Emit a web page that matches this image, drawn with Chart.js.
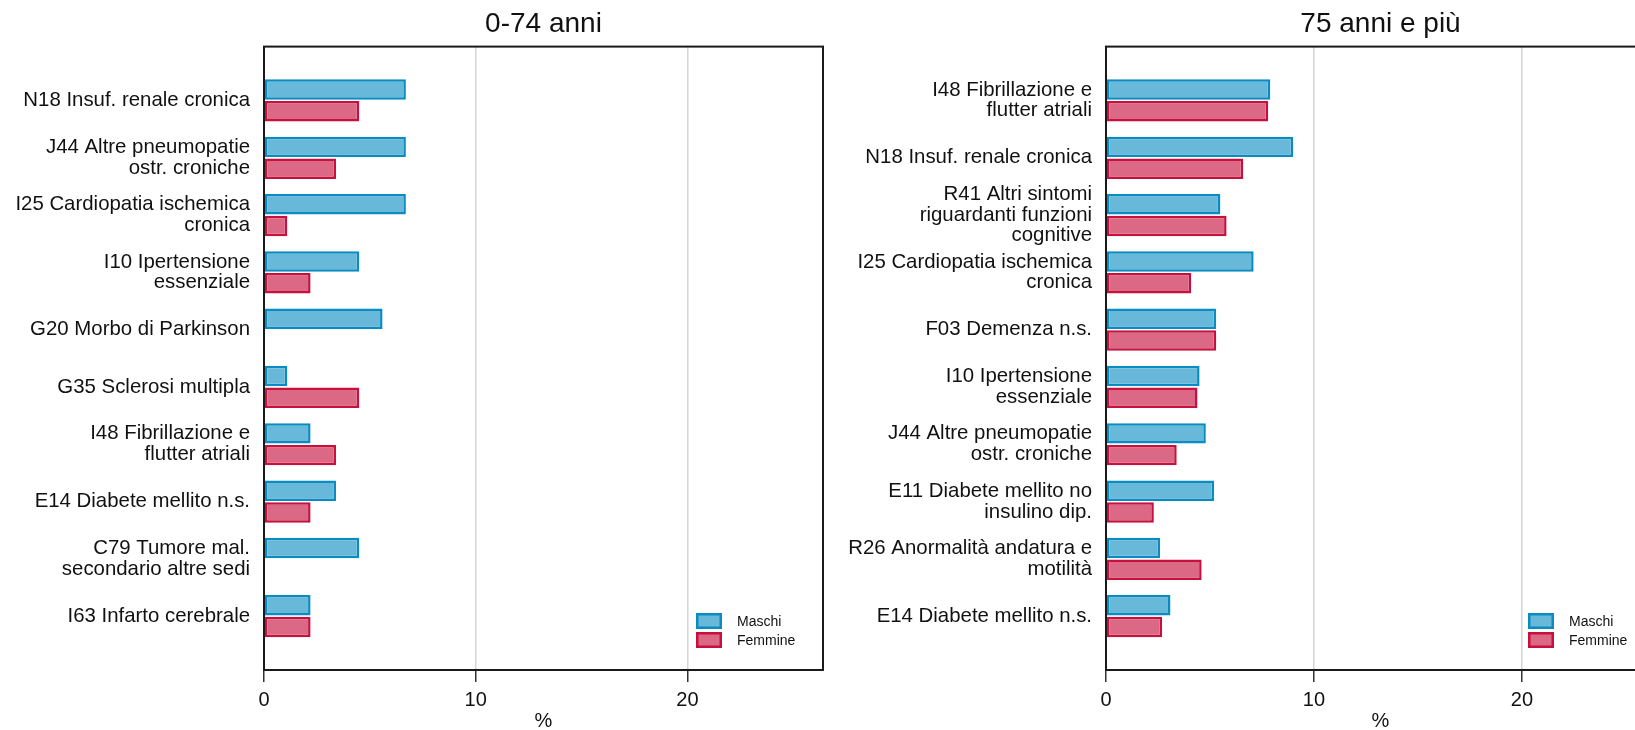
<!DOCTYPE html>
<html>
<head>
<meta charset="utf-8">
<script src="https://cdn.jsdelivr.net/npm/chart.js@4.4.1/dist/chart.umd.min.js"></script>
<style>
    html, body { margin: 0; padding: 0; background: #fff; overflow: hidden; width: 1635px; height: 730px; }
    .panel { position: absolute; top: 0; height: 730px; }
    #left-panel { left: 0; width: 830px; }
    #right-panel { left: 830px; width: 830px; }
</style>
</head>
<body>
<div class="panel" id="left-panel"><canvas id="chartLeft"></canvas></div>
<div class="panel" id="right-panel"><canvas id="chartRight"></canvas></div>
<script>
// 0-74 anni
const leftLabels = [
    'N18 Insuf. renale cronica',
    ['J44 Altre pneumopatie', 'ostr. croniche'],
    ['I25 Cardiopatia ischemica', 'cronica'],
    ['I10 Ipertensione', 'essenziale'],
    'G20 Morbo di Parkinson',
    'G35 Sclerosi multipla',
    ['I48 Fibrillazione e', 'flutter atriali'],
    'E14 Diabete mellito n.s.',
    ['C79 Tumore mal.', 'secondario altre sedi'],
    'I63 Infarto cerebrale'
];
const leftMaschi = [6.7, 6.7, 6.7, 4.5, 5.6, 1.1, 2.2, 3.4, 4.5, 2.2];
const leftFemmine = [4.5, 3.4, 1.1, 2.2, null, 4.5, 3.4, 2.2, null, 2.2];

// 75 anni e più
const rightLabels = [
    ['I48 Fibrillazione e', 'flutter atriali'],
    'N18 Insuf. renale cronica',
    ['R41 Altri sintomi', 'riguardanti funzioni', 'cognitive'],
    ['I25 Cardiopatia ischemica', 'cronica'],
    'F03 Demenza n.s.',
    ['I10 Ipertensione', 'essenziale'],
    ['J44 Altre pneumopatie', 'ostr. croniche'],
    ['E11 Diabete mellito no', 'insulino dip.'],
    ['R26 Anormalità andatura e', 'motilità'],
    'E14 Diabete mellito n.s.'
];
const rightMaschi = [7.9, 9.0, 5.5, 7.1, 5.3, 4.5, 4.8, 5.2, 2.6, 3.1];
const rightFemmine = [7.8, 6.6, 5.8, 4.1, 5.3, 4.4, 3.4, 2.3, 4.6, 2.7];

const xTicks = [0, 10, 20];
const xMax = 26.4;

const FONT = '"Liberation Sans", Arial, sans-serif';
const BLUE = '#68b9d9', BLUE_LINE = '#0a8cc2';
const RED = '#db6985', RED_LINE = '#c8103f';

// plot frame drawn on top of the bars
const framePlugin = {
    id: 'frame',
    afterDatasetsDraw(chart) {
        const { ctx, chartArea: a } = chart;
        ctx.save();
        ctx.strokeStyle = '#1a1a1a';
        ctx.lineWidth = 2;
        ctx.strokeRect(a.left, a.top, a.right - a.left, a.bottom - a.top);
        ctx.restore();
    }
};

// small legend in the bottom right corner of the plot
const legendPlugin = {
    id: 'cornerLegend',
    afterDraw(chart) {
        const { ctx, chartArea: a } = chart;
        ctx.save();
        ctx.font = '14px ' + FONT;
        ctx.textBaseline = 'middle';
        chart.data.datasets.forEach((ds, i) => {
            const x = a.right - 127;
            const y = a.bottom - 57 + i * 19;
            ctx.fillStyle = ds.backgroundColor;
            ctx.fillRect(x, y, 26, 16);
            ctx.strokeStyle = ds.borderColor;
            ctx.lineWidth = 2.5;
            ctx.strokeRect(x + 1.25, y + 1.25, 23.5, 13.5);
            ctx.fillStyle = '#111';
            ctx.fillText(ds.label, a.right - 86, y + 9);
        });
        ctx.restore();
    }
};

function makeChart(canvasId, title, labels, maschi, femmine, yWidth, padRight) {
    const toPoints = arr => arr.map((v, i) => ({ x: v, y: i }));
    return new Chart(document.getElementById(canvasId), {
        type: 'bar',
        data: {
            datasets: [
                { label: 'Maschi', data: toPoints(maschi), backgroundColor: BLUE, borderColor: BLUE_LINE },
                { label: 'Femmine', data: toPoints(femmine), backgroundColor: RED, borderColor: RED_LINE }
            ]
        },
        options: {
            indexAxis: 'y',
            responsive: true,
            maintainAspectRatio: false,
            animation: false,
            layout: { padding: { left: 0, right: padRight, top: 0, bottom: 0 } },
            datasets: {
                bar: { borderWidth: 2.5, borderSkipped: false, categoryPercentage: 0.76, barPercentage: 0.94 }
            },
            scales: {
                y: {
                    type: 'linear',
                    reverse: true,
                    offset: false,
                    min: -0.94,
                    max: labels.length - 1 + 0.94,
                    grid: { display: false },
                    border: { display: false },
                    ticks: {
                        stepSize: 1,
                        autoSkip: false,
                        includeBounds: false,
                        padding: 6,
                        color: '#111',
                        font: { family: FONT, size: 20.4, lineHeight: 1.02 },
                        callback: v => Number.isInteger(v) ? labels[v] : ''
                    },
                    afterFit: s => { s.width = yWidth; }
                },
                x: {
                    min: 0,
                    max: xMax,
                    grid: { color: '#d6d6d6', lineWidth: 1.5, tickLength: 12, tickColor: '#333', tickWidth: 1.5 },
                    border: { display: false },
                    ticks: {
                        stepSize: 10,
                        includeBounds: false,
                        padding: 6,
                        color: '#111',
                        font: { family: FONT, size: 20 },
                        callback: v => xTicks.includes(v) ? String(v) : ''
                    },
                    title: {
                        display: true, text: '%', color: '#111',
                        font: { family: FONT, size: 20, lineHeight: 1 },
                        padding: { top: 0, bottom: -1 }
                    },
                    afterFit: s => { s.height = 60; }
                }
            },
            plugins: {
                legend: { display: false },
                tooltip: { enabled: false },
                title: {
                    display: true, text: title, fullSize: false, color: '#111',
                    font: { family: FONT, size: 28, weight: 'normal' },
                    padding: { top: 7, bottom: 6 }
                }
            }
        },
        plugins: [framePlugin, legendPlugin]
    });
}

makeChart('chartLeft', '0-74 anni', leftLabels, leftMaschi, leftFemmine, 264, 7);
makeChart('chartRight', '75 anni e più', rightLabels, rightMaschi, rightFemmine, 276, 5);
</script>
</body>
</html>
